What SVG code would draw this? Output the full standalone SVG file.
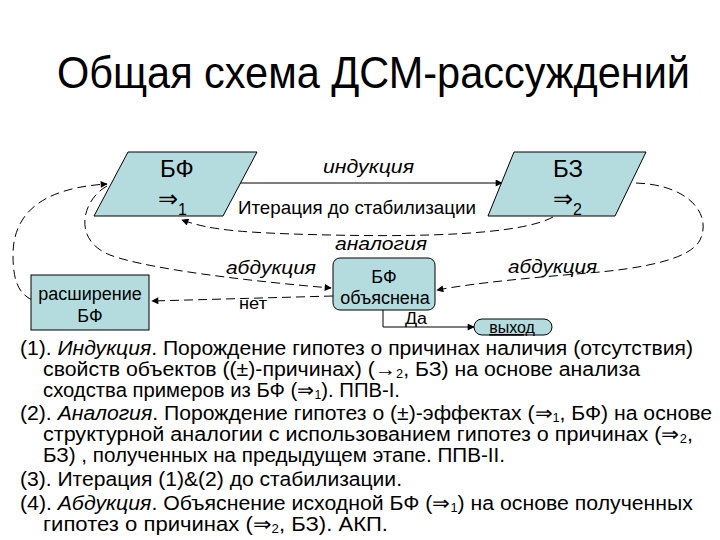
<svg xmlns="http://www.w3.org/2000/svg" width="720" height="540" viewBox="0 0 720 540">
<style>
  text { font-family: "Liberation Sans", Arial, sans-serif; fill: #000; }
  .node { fill: #b4dcdf; stroke: #000; stroke-width: 1; }
  .dash { fill: none; stroke: #000; stroke-width: 1; stroke-dasharray: 9 5; }
  .solid { fill: none; stroke: #000; stroke-width: 1; }
  .it { font-style: italic; }
  .lbl { font-size: 19px; }
  .body { font-size: 20px; }
  .sub { font-size: 12px; }
</style>
<defs>
  <marker id="ah" viewBox="0 0 10 10" refX="9" refY="5" markerWidth="8" markerHeight="7" orient="auto" markerUnits="userSpaceOnUse">
    <path d="M0,0 L10,5 L0,10 Z" fill="#000"/>
  </marker>
</defs>
<rect width="720" height="540" fill="#fff"/>

<text x="57" y="88" font-size="44" textLength="633" lengthAdjust="spacingAndGlyphs">Общая схема ДСМ-рассуждений</text>

<g id="connectors">
  <path class="solid" d="M240,183 L502,183" marker-end="url(#ah)"/>
  <path class="dash" d="M553,217 C520,235 420,237 330,235 S210,230 182,220" marker-end="url(#ah)"/>
  <path class="dash" d="M32,300 C18,293 13,280 13,255 C13,215 40,188 107,184" marker-end="url(#ah)"/>
  <path class="dash" d="M107,186 C82,200 72,240 110,255 C150,270 260,282 331,288" marker-end="url(#ah)"/>
  <path class="dash" d="M636,183 C690,185 712,215 700,240 C690,260 640,268 600,272 C540,277 480,282 437,290" marker-end="url(#ah)"/>
  <path class="dash" d="M333,296 L152,301" marker-end="url(#ah)"/>
  <path class="solid" d="M383,310 V327 H474" marker-end="url(#ah)"/>
</g>

<g id="bf">
  <polygon class="node" points="128,152 257,152 223,216 94,216"/>
  <text x="160" y="177" font-size="24">БФ</text>
  <text x="158" y="207" font-size="24">⇒<tspan font-size="16" dy="8">1</tspan></text>
</g>

<g id="bz">
  <polygon class="node" points="514,152 646,152 615,216 488,216"/>
  <text x="553" y="177" font-size="24">БЗ</text>
  <text x="553" y="207" font-size="24">⇒<tspan font-size="16" dy="8">2</tspan></text>
</g>

<g id="rassh">
  <rect class="node" x="31" y="275" width="118" height="55"/>
  <text x="90" y="300" font-size="18" text-anchor="middle">расширение</text>
  <text x="90" y="322" font-size="18" text-anchor="middle">БФ</text>
</g>

<g id="bfobj">
  <rect class="node" x="333" y="258" width="102" height="52" rx="7"/>
  <text x="384" y="283" font-size="18" text-anchor="middle">БФ</text>
  <text x="385" y="304" font-size="18" text-anchor="middle">объяснена</text>
</g>

<g id="vyhod">
  <rect class="node" x="474" y="319" width="78" height="16" rx="8"/>
  <text x="512" y="333" font-size="16" text-anchor="middle" text-decoration="underline">выход</text>
</g>

<g id="labels">
  <text class="lbl it" x="323" y="173" textLength="91" lengthAdjust="spacingAndGlyphs">индукция</text>
  <text class="lbl" x="238" y="214" textLength="238" lengthAdjust="spacingAndGlyphs">Итерация до стабилизации</text>
  <text class="lbl it" x="335" y="250" textLength="92" lengthAdjust="spacingAndGlyphs">аналогия</text>
  <text class="lbl it" x="226" y="274" textLength="90" lengthAdjust="spacingAndGlyphs">абдукция</text>
  <text class="lbl it" x="508" y="273" textLength="89" lengthAdjust="spacingAndGlyphs">абдукция</text>
  <text x="239" y="309" font-size="17" textLength="28" lengthAdjust="spacingAndGlyphs">нет</text>
  <text x="405" y="324" font-size="16" textLength="22" lengthAdjust="spacingAndGlyphs">Да</text>
</g>

<g id="body" class="body">
  <text x="20" y="355" textLength="673" lengthAdjust="spacingAndGlyphs">(1). <tspan class="it">Индукция</tspan>. Порождение гипотез о причинах наличия (отсутствия)</text>
  <text x="43" y="376" textLength="597" lengthAdjust="spacingAndGlyphs">свойств объектов ((±)-причинах) (→<tspan class="sub" dy="2">2</tspan><tspan dy="-2">, БЗ) на основе анализа</tspan></text>
  <text x="43" y="397" textLength="357" lengthAdjust="spacingAndGlyphs">сходства примеров из БФ (⇒<tspan class="sub" dy="2">1</tspan><tspan dy="-2">). ППВ-I.</tspan></text>
  <text x="20" y="420" textLength="692" lengthAdjust="spacingAndGlyphs">(2). <tspan class="it">Аналогия</tspan>. Порождение гипотез о (±)-эффектах (⇒<tspan class="sub" dy="2">1</tspan><tspan dy="-2">, БФ) на основе</tspan></text>
  <text x="43" y="441" textLength="650" lengthAdjust="spacingAndGlyphs">структурной аналогии с использованием гипотез о причинах (⇒<tspan class="sub" dy="2">2</tspan><tspan dy="-2">,</tspan></text>
  <text x="43" y="462" textLength="462" lengthAdjust="spacingAndGlyphs">БЗ) , полученных на предыдущем этапе. ППВ-II.</text>
  <text x="20" y="486" textLength="382" lengthAdjust="spacingAndGlyphs">(3). Итерация (1)&amp;(2) до стабилизации.</text>
  <text x="20" y="510" textLength="673" lengthAdjust="spacingAndGlyphs">(4). <tspan class="it">Абдукция</tspan>. Объяснение исходной БФ (⇒<tspan class="sub" dy="2">1</tspan><tspan dy="-2">) на основе полученных</tspan></text>
  <text x="43" y="531" textLength="345" lengthAdjust="spacingAndGlyphs">гипотез о причинах (⇒<tspan class="sub" dy="2">2</tspan><tspan dy="-2">, БЗ). АКП.</tspan></text>
</g>
</svg>
